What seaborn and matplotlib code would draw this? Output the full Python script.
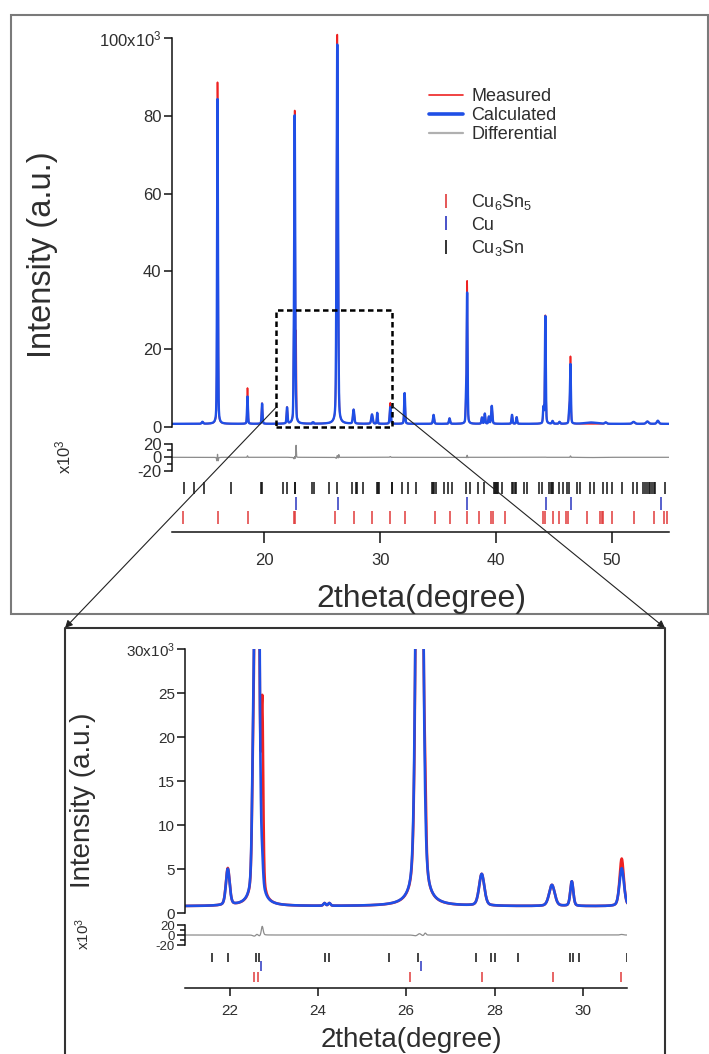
import numpy as np
import pandas as pd
import matplotlib
matplotlib.use("Agg")
import matplotlib.pyplot as plt
import seaborn as sns
from matplotlib.lines import Line2D
from matplotlib.patches import Rectangle, ConnectionPatch

# ------------------------------------------------------------------ data
theta_start, theta_stop, theta_step = 12.0, 55.0, 0.01
background = 800.0

# peak table: position (deg), fwhm (deg), calculated / measured height (counts)
peak_pos = [14.65, 15.95, 18.54, 19.80, 21.96, 22.53, 22.62, 22.74, 24.15, 24.26,
            26.30, 26.43, 27.71, 29.30, 29.75, 30.88, 32.12, 34.62, 36.00, 37.42,
            37.52, 38.80, 39.05, 39.40, 39.65, 41.40, 41.80, 44.12, 44.28, 44.90,
            45.50, 46.35, 46.45, 48.20, 49.50, 51.90, 53.10, 54.00]
calc_fwhm = [0.15, 0.09, 0.09, 0.09, 0.10, 0.06, 0.10, 0.05, 0.06, 0.06,
             0.14, 0.05, 0.14, 0.15, 0.08, 0.12, 0.10, 0.12, 0.12, 0.08,
             0.09, 0.10, 0.10, 0.10, 0.12, 0.10, 0.10, 0.10, 0.09, 0.12,
             0.12, 0.10, 0.09, 1.20, 0.20, 0.25, 0.25, 0.20]
meas_fwhm = [0.15, 0.08, 0.08, 0.09, 0.10, 0.06, 0.095, 0.05, 0.06, 0.06,
             0.135, 0.05, 0.14, 0.15, 0.08, 0.11, 0.10, 0.12, 0.12, 0.08,
             0.085, 0.10, 0.10, 0.10, 0.12, 0.10, 0.10, 0.10, 0.09, 0.12,
             0.12, 0.10, 0.085, 1.20, 0.20, 0.25, 0.25, 0.20]
calc_height = [500, 83500, 7000, 5200, 4100, 9000, 79000, 2000, 300, 300,
               97500, 0, 3600, 2400, 2800, 4300, 7900, 2300, 1400, 5000,
               33500, 1600, 2600, 1800, 4600, 2300, 1700, 4000, 27600, 700,
               500, 3500, 15000, 350, 350, 500, 600, 800]
meas_height = [500, 87800, 9200, 5300, 4200, 9000, 80000, 20000, 300, 300,
               100000, 5000, 3600, 2400, 2800, 5400, 7900, 2300, 1400, 5000,
               36500, 1600, 2600, 1800, 4600, 2300, 1700, 4000, 27800, 700,
               500, 3500, 17000, 0, 350, 500, 600, 800]

# reflection positions (deg)
cu6sn5_ticks = [12.96, 16.02, 18.55, 22.55, 22.65, 26.08, 27.72, 29.32, 30.87, 32.14,
                34.72, 36.00, 37.52, 38.57, 39.60, 39.75, 40.78, 44.05, 44.25, 44.97,
                45.49, 46.10, 46.27, 47.92, 48.98, 49.15, 49.30, 50.00, 51.94, 53.65,
                54.50, 54.77]
cu_ticks = [22.72, 26.33, 37.54, 44.31, 46.47, 54.28]
cu3sn_ticks = [13.02, 13.90, 14.75, 17.14, 19.75, 19.82, 21.61, 21.96, 22.61, 22.66,
               24.15, 24.26, 25.62, 26.26, 27.59, 27.93, 28.02, 28.54, 29.70, 29.78,
               29.91, 31.00, 31.05, 31.90, 32.45, 33.10, 34.45, 34.55, 34.65, 34.80,
               35.50, 35.85, 36.20, 37.42, 37.78, 38.50, 39.02, 39.80, 39.90, 40.00,
               40.10, 40.22, 40.50, 41.38, 41.48, 41.66, 41.74, 42.42, 42.68, 43.70,
               43.96, 44.62, 44.75, 44.86, 44.97, 45.49, 45.83, 46.13, 46.35, 47.04,
               47.28, 48.14, 48.49, 49.29, 49.64, 50.02, 50.88, 51.88, 52.23, 52.70,
               52.88, 53.04, 53.20, 53.36, 53.50, 53.64, 53.76, 54.60]

top_yticks = [0, 20000, 40000, 60000, 80000, 100000]
top_yticklabels = ["0", "20", "40", "60", "80", "100x10$^3$"]
top_xticks = [20, 30, 40, 50]
zoom_yticks = [0, 5000, 10000, 15000, 20000, 25000, 30000]
zoom_yticklabels = ["0", "5", "10", "15", "20", "25", "30x10$^3$"]
zoom_xticks = [22, 24, 26, 28, 30]
diff_yticks = [-20000, 0, 20000]
diff_yticklabels = ["-20", "0", "20"]

# ------------------------------------------------------------------ profile
def pseudo_voigt(x, x0, fwhm, eta=0.3):
    u = (x - x0) / fwhm
    return eta / (1 + 4 * u * u) + (1 - eta) * np.exp(-4 * np.log(2) * u * u)

tt = np.arange(theta_start, theta_stop + theta_step / 2, theta_step)
calc = np.full_like(tt, background)
meas = np.full_like(tt, background)
for p, wc, wm, hc, hm in zip(peak_pos, calc_fwhm, meas_fwhm, calc_height, meas_height):
    calc += hc * pseudo_voigt(tt, p, wc)
    meas += hm * pseudo_voigt(tt, p, wm)
df = pd.DataFrame({"two_theta": tt, "measured": meas, "calculated": calc,
                   "differential": meas - calc})

# ------------------------------------------------------------------ style
sns.set_theme(style="ticks")
plt.rcParams["font.family"] = ["Liberation Sans", "DejaVu Sans"]
plt.rcParams["mathtext.default"] = "regular"
TXT = "#2e2e2e"
plt.rcParams.update({"text.color": TXT, "axes.labelcolor": TXT,
                     "xtick.color": "#111111", "ytick.color": "#111111",
                     "xtick.labelcolor": TXT, "ytick.labelcolor": TXT,
                     "axes.edgecolor": "#111111", "axes.linewidth": 1.1})

RED = "#ee2222"
BLUE = "#1f4fe6"
GRAY = "#8c8c8c"
TICK_RED = "#e03a3a"
TICK_BLUE = "#2a35c0"
TICK_BLACK = "#111111"

W, H = 709, 1054
fig = plt.figure(figsize=(W / 100, H / 100), dpi=100)


def box(x0, y0, x1, y1):
    return [x0 / W, 1 - y1 / H, (x1 - x0) / W, (y1 - y0) / H]


def clean(ax, keep):
    for s in ["left", "right", "top", "bottom"]:
        ax.spines[s].set_visible(s in keep)
    ax.set_facecolor("none")
    ax.set_xlabel("")
    ax.set_ylabel("")


def draw_panel(ax_m, ax_d, ax_k, xlim, ylim_m, ylim_d, yticks, yticklabels, xticks,
               lw_meas, lw_calc, fs_tick, fs_diff, tick_len_x, pad_x, rows):
    for col, c, lw in [("measured", RED, lw_meas), ("calculated", BLUE, lw_calc)]:
        sns.lineplot(data=df, x="two_theta", y=col, ax=ax_m, color=c, linewidth=lw,
                     estimator=None, legend=False)
    ax_m.set_xlim(*xlim)
    ax_m.set_ylim(*ylim_m)
    clean(ax_m, ["left"])
    ax_m.spines["left"].set_bounds(yticks[0], yticks[-1])
    ax_m.set_yticks(yticks)
    ax_m.set_yticklabels(yticklabels)
    ax_m.tick_params(axis="y", length=5.5, width=1.1, labelsize=fs_tick, pad=2)
    ax_m.tick_params(axis="x", bottom=False, labelbottom=False)

    sns.lineplot(data=df, x="two_theta", y="differential", ax=ax_d, color=GRAY,
                 linewidth=0.9, estimator=None, legend=False)
    ax_d.set_xlim(*xlim)
    ax_d.set_ylim(*ylim_d)
    clean(ax_d, ["left"])
    ax_d.spines["left"].set_bounds(-20000, 20000)
    ax_d.set_yticks(diff_yticks)
    ax_d.set_yticklabels(diff_yticklabels)
    ax_d.set_yticks([-10000, 10000], minor=True)
    ax_d.tick_params(axis="y", which="major", length=5.5, width=1.1, labelsize=fs_diff, pad=2)
    ax_d.tick_params(axis="y", which="minor", length=3.5, width=1.1)
    ax_d.tick_params(axis="x", bottom=False, labelbottom=False)

    (b0, b1), (u0, u1), (r0, r1) = rows
    ax_k.vlines(cu3sn_ticks, b0, b1, colors=TICK_BLACK, linewidth=1.1)
    ax_k.vlines(cu_ticks, u0, u1, colors=TICK_BLUE, linewidth=1.1)
    ax_k.vlines(cu6sn5_ticks, r0, r1, colors=TICK_RED, linewidth=1.1)
    ax_k.set_xlim(*xlim)
    ax_k.set_ylim(0, 1)
    clean(ax_k, ["bottom"])
    ax_k.set_yticks([])
    ax_k.set_xticks(xticks)
    ax_k.set_xticklabels([str(t) for t in xticks])
    ax_k.tick_params(axis="x", length=tick_len_x, width=1.1, labelsize=fs_tick, pad=pad_x)


# ---------------- top panel
ax_t = fig.add_axes(box(171.8, 26.3, 669.4, 432.8))
ax_td = fig.add_axes(box(171.8, 436.3, 669.4, 478.3))
ax_tk = fig.add_axes(box(171.8, 476.0, 669.4, 532.0))
draw_panel(ax_t, ax_td, ax_tk, (12, 55), (-1500, 103000), (-30545, 30545),
           top_yticks, top_yticklabels, top_xticks, 1.2, 1.7, 12, 12, 8, 7,
           ((0.68, 0.89), (0.40, 0.62), (0.15, 0.38)))
ax_t.add_patch(Rectangle((21, 0), 10, 30000, fill=False, edgecolor="black",
                         linewidth=1.8, linestyle=(0, (2.2, 1.4)), zorder=5))

fig.text(43 / W, 1 - 255 / H, "Intensity (a.u.)", rotation=90, ha="center", va="center",
         fontsize=23.5)
fig.text(63 / W, 1 - 457 / H, "x10$^3$", rotation=90, ha="center", va="center", fontsize=12)
fig.text(421 / W, 1 - 599 / H, "2theta(degree)", ha="center", va="center", fontsize=23)

line_handles = [Line2D([], [], color=RED, lw=1.2),
                Line2D([], [], color=BLUE, lw=2.6),
                Line2D([], [], color="#b0b0b0", lw=1.6)]
leg1 = fig.legend(line_handles, ["Measured", "Calculated", "Differential"],
                  loc="center left", bbox_to_anchor=(429 / W, 1 - 115.5 / H),
                  bbox_transform=fig.transFigure, frameon=False, fontsize=13,
                  handlelength=1.9, handletextpad=0.45, labelspacing=0.12,
                  borderpad=0, borderaxespad=0)
phase_handles = [Line2D([], [], color=TICK_RED, marker="|", ls="none", ms=10, mew=1.2),
                 Line2D([], [], color=TICK_BLUE, marker="|", ls="none", ms=10, mew=1.2),
                 Line2D([], [], color=TICK_BLACK, marker="|", ls="none", ms=10, mew=1.2)]
leg2 = fig.legend(phase_handles, ["Cu$_6$Sn$_5$", "Cu", "Cu$_3$Sn"],
                  loc="center left", bbox_to_anchor=(429 / W, 1 - 225 / H),
                  bbox_transform=fig.transFigure, frameon=False, fontsize=13,
                  handlelength=1.9, handletextpad=0.45, labelspacing=0.25,
                  borderpad=0, borderaxespad=0)

# ---------------- zoomed panel
ax_b = fig.add_axes(box(185.4, 649.0, 627.0, 917.7))
ax_bd = fig.add_axes(box(185.4, 921.0, 627.0, 949.0))
ax_bk = fig.add_axes(box(185.4, 950.0, 627.0, 987.5))
draw_panel(ax_b, ax_bd, ax_bk, (21, 31), (-500, 30000), (-28000, 28000),
           zoom_yticks, zoom_yticklabels, zoom_xticks, 1.9, 1.9, 11, 9.5, 6, 6,
           ((0.69, 0.93), (0.45, 0.71), (0.16, 0.42)))
fig.text(83 / W, 1 - 800 / H, "Intensity (a.u.)", rotation=90, ha="center", va="center",
         fontsize=20)
fig.text(83 / W, 1 - 934 / H, "x10$^3$", rotation=90, ha="center", va="center", fontsize=11)
fig.text(411 / W, 1 - 1040 / H, "2theta(degree)", ha="center", va="center", fontsize=20)

# ---------------- frames and connectors
fig.add_artist(Rectangle((11 / W, 1 - 614 / H), (708 - 11) / W, (614 - 15) / H,
                         transform=fig.transFigure, fill=False, edgecolor="#7a7a7a",
                         linewidth=1.5))
fig.add_artist(Line2D([65 / W, 65 / W, 665 / W, 665 / W], [0, 1 - 628 / H, 1 - 628 / H, 0],
                      transform=fig.transFigure, color="#333333", linewidth=1.5))
for xy_data, xy_fig in [((21, 5000), (65 / W, 1 - 628 / H)),
                        ((31, 5500), (665 / W, 1 - 628 / H))]:
    con = ConnectionPatch(xyA=xy_data, coordsA=ax_t.transData, xyB=xy_fig,
                          coordsB=fig.transFigure, arrowstyle="-|>", mutation_scale=11,
                          color="#222222", linewidth=0.8, shrinkA=0, shrinkB=0)
    fig.add_artist(con)

fig.savefig("out.png", dpi=100)
